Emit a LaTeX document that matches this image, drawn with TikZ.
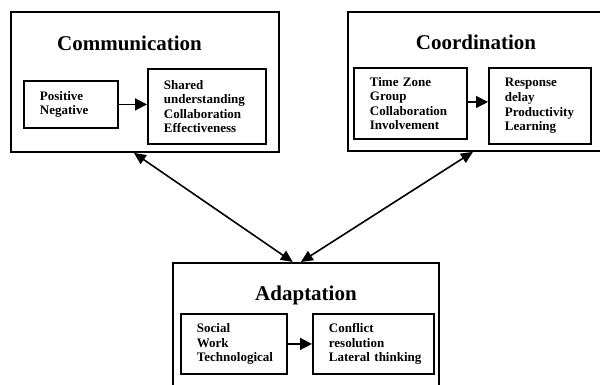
\documentclass[tikz,border=0pt]{standalone}
\usepackage{fontspec}
\setmainfont{Liberation Serif}
\usetikzlibrary{arrows.meta}
\usetikzlibrary{calc}

\tikzset{
  outerbox/.style={draw, line width=1.4pt, anchor=north west, inner sep=0pt},
  innerbox/.style={draw, line width=1.4pt, anchor=north west, inner xsep=12pt, inner ysep=0pt,
    align=left, font=\bfseries\fontsize{9.75}{10.9}\selectfont},
  heading/.style={anchor=base, inner sep=0pt, font=\bfseries\fontsize{15.75}{18}\selectfont},
  flow/.style={line width=1.2pt, -{Triangle[length=9pt,width=9pt]}},
  link/.style={line width=1.2pt, {Triangle[length=9pt,width=8pt]}-{Triangle[length=9pt,width=8pt]}},
}

\begin{document}
\begin{tikzpicture}[x=0.75pt,y=0.75pt,yscale=-1,xscale=1]
\useasboundingbox (0,0) rectangle (600,385);

%Outer boxes
\node [outerbox, minimum width=201pt, minimum height=105pt] (comm) at (10,11) {};
\node [outerbox, minimum width=198.75pt, minimum height=104.25pt] (coord) at (347,11) {};
\node [outerbox, minimum width=199.5pt, minimum height=103.5pt] (adapt) at (172,262) {};

% Headings
\node [heading] (commtitle) at (129.5,51) {Communication};
\node [heading] (coordtitle) at (476,50) {Coordination};
\node [heading] (adapttitle) at (306,300) {Adaptation};

%Communication inner boxes
\node [innerbox, minimum width=70.5pt, minimum height=35.25pt, text width=46.5pt] (posneg) at (23,80)
  {Positive\\Negative};
\node [innerbox, minimum width=88.5pt, minimum height=56.25pt, text width=64.5pt] (shared) at (147,68)
  {Shared\\understanding\\Collaboration\\Effectiveness};

%Coordination inner boxes
\node [innerbox, minimum width=84.75pt, minimum height=53.25pt, text width=60.75pt] (timezone) at (353,67)
  {\mbox{Time Zone}\\Group\\Collaboration\\Involvement};
\node [innerbox, minimum width=76.5pt, minimum height=57pt, text width=52.5pt] (response) at (488,67)
  {Response\\delay\\Productivity\\Learning};

%Adaptation inner boxes
\node [innerbox, minimum width=79.5pt, minimum height=45pt, text width=55.5pt] (social) at (180,313)
  {Social\\Work\\Technological};
\node [innerbox, minimum width=90.75pt, minimum height=45pt, text width=66.75pt] (conflict) at (312,313)
  {Conflict\\resolution\\\mbox{Lateral thinking}};

%Straight Lines
\draw [flow] (posneg.east) -- (posneg.east -| shared.west);
\draw [flow] ([yshift=-1.1pt]timezone.east) -- ([yshift=-1.1pt]timezone.east -| response.west);
\draw [flow] (social.east) -- (conflict.west);

%Double arrows
\draw [link] ($(comm.south west)!0.459!(comm.south east)$) -- ($(adapt.north west)!0.451!(adapt.north east)$);
\draw [link] ($(coord.south west)!0.472!(coord.south east)$) -- ($(adapt.north west)!0.481!(adapt.north east)$);

\end{tikzpicture}
\end{document}
